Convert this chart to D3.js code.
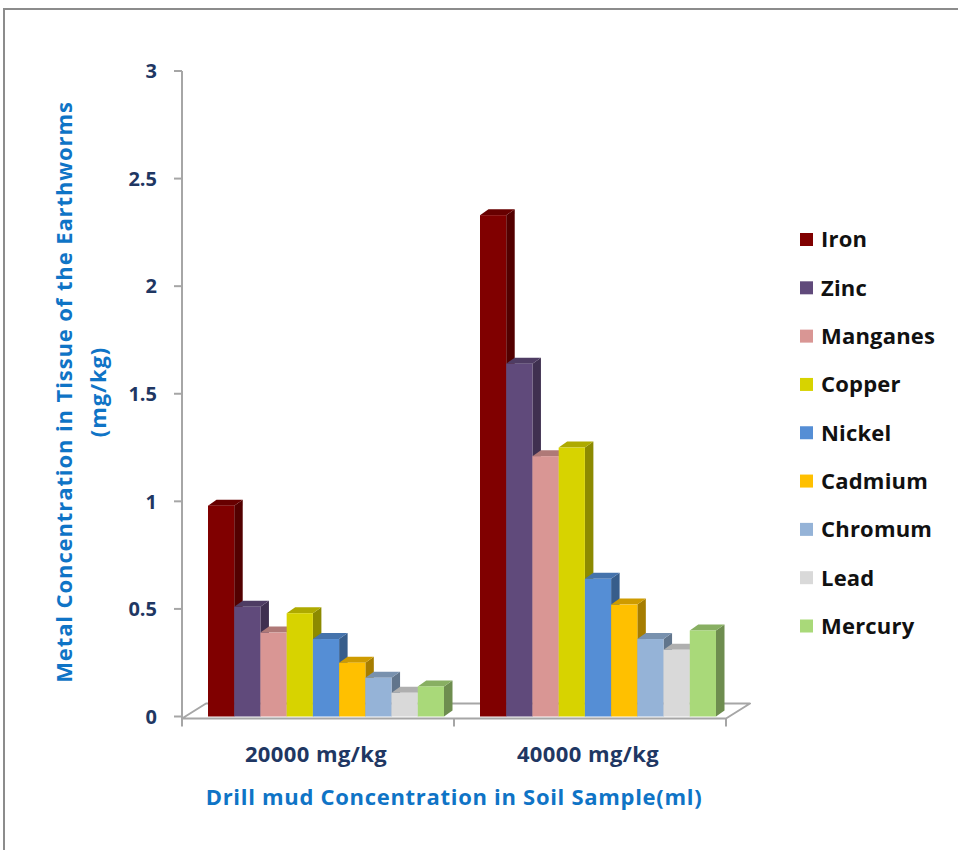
<!DOCTYPE html>
<html>
<head>
<meta charset="utf-8">
<script src="https://cdn.jsdelivr.net/npm/d3@7"></script>
<style>
  body{margin:0;background:#fff;}
  text{font-family:"Open Sans","DejaVu Sans",sans-serif;font-weight:bold;}
</style>
</head>
<body>
<svg id="chart" width="958" height="850"></svg>
<script>
// data
var categories=['20000 mg/kg','40000 mg/kg']
var metals=['Iron','Zinc','Manganes','Copper','Nickel','Cadmium','Chromum','Lead','Mercury']
var colors=['#800000','#604a7b','#d99694','#d7d300','#558ed5','#ffc000','#95b3d7','#d9d9d9','#a9d979']
var values20000=[0.98,0.51,0.39,0.48,0.36,0.25,0.18,0.11,0.14]
var values40000=[2.33,1.64,1.21,1.25,0.64,0.52,0.36,0.31,0.40]
var yTicks=[0,0.5,1,1.5,2,2.5,3]

var svg=d3.select('#chart')
var depth={dx:8.5,dy:-6},floorDepth={dx:24,dy:-15}

// outer chart border
svg.append('rect')
    .attr('x',4).attr('y',9)
    .attr('width',1000).attr('height',900)
    .attr('fill','#fff')
    .attr('stroke','#8c8c8c')
    .attr('stroke-width',2)

var x0=d3.scaleBand().domain(categories).range([182,726]),
    x1=d3.scaleBand().domain(metals).range([26,262]),
    y=d3.scaleLinear().domain([0,3]).range([716.5,71])

var y0=y(0)
// floor
var floor=[[182,y0+2],[726,y0+2],[726+floorDepth.dx,y0+2+floorDepth.dy],[182+floorDepth.dx,y0+2+floorDepth.dy]]
svg.append('polygon')
    .attr('points',floor.map(p=>p.join(',')).join(' '))
    .attr('fill','#fff')
    .attr('stroke','#a6a6a6')
    .attr('stroke-width',2)
    .attr('stroke-linejoin','round')

// y axis
var yAxis=svg.append('g').attr('id','y-axis')
yAxis.append('line')
    .attr('x1',182).attr('x2',182)
    .attr('y1',y(3)).attr('y2',y0+6)
    .attr('stroke','#a6a6a6').attr('stroke-width',2)
yAxis.selectAll('line.tick')
    .data(yTicks)
    .join('line')
    .attr('class','tick')
    .attr('x1',174).attr('x2',182)
    .attr('y1',d=>y(d)).attr('y2',d=>y(d))
    .attr('stroke','#a6a6a6').attr('stroke-width',2)
yAxis.selectAll('text')
    .data(yTicks)
    .join('text')
    .attr('x',157)
    .attr('y',d=>y(d))
    .attr('dy','0.36em')
    .attr('text-anchor','end')
    .attr('font-size',20)
    .attr('fill','#1f3763')
    .text(d=>d)

// x axis ticks + labels
var bounds=[182,x0(categories[1]),726]
svg.append('g').selectAll('line')
    .data(bounds)
    .join('line')
    .attr('x1',d=>d).attr('x2',d=>d)
    .attr('y1',y0+2).attr('y2',y0+10)
    .attr('stroke','#a6a6a6').attr('stroke-width',2)
svg.append('g').selectAll('text')
    .data(categories)
    .join('text')
    .attr('x',d=>x0(d)+x0.bandwidth()/2-2)
    .attr('y',762)
    .attr('text-anchor','middle')
    .attr('font-size',22)
    .attr('letter-spacing',0.4)
    .attr('fill','#1f3763')
    .text(d=>d)

// 3d bars
var series=[values20000,values40000]
var bars=[]
categories.forEach((c,ci)=>{
    metals.forEach((m,mi)=>{
        bars.push({cat:c,metal:m,value:series[ci][mi],color:colors[mi]})
    })
})
function pts(a){return a.map(p=>p.join(',')).join(' ')}
var g=svg.append('g').attr('id','bars')
    .selectAll('g')
    .data(bars)
    .join('g')
g.each(function(d){
    var sel=d3.select(this)
    var xl=x0(d.cat)+x1(d.metal), xr=xl+x1.bandwidth(), yt=y(d.value)
    var c=d3.color(d.color)
    sel.append('polygon')   // side
        .attr('points',pts([[xr,y0],[xr,yt],[xr+depth.dx,yt+depth.dy],[xr+depth.dx,y0+depth.dy]]))
        .attr('fill',c.darker(1.2))
    sel.append('polygon')   // top
        .attr('points',pts([[xl,yt],[xr,yt],[xr+depth.dx,yt+depth.dy],[xl+depth.dx,yt+depth.dy]]))
        .attr('fill',c.darker(0.6))
    sel.append('rect')      // front
        .attr('x',xl).attr('y',yt)
        .attr('width',x1.bandwidth()).attr('height',y0-yt)
        .attr('fill',d.color)
})

// legend
var legend=svg.append('g').attr('id','legend')
var ly=d3.scalePoint().domain(metals).range([239.5,626])
legend.selectAll('rect')
    .data(metals)
    .join('rect')
    .attr('x',800).attr('y',d=>ly(d)-6.5)
    .attr('width',13).attr('height',13)
    .attr('fill',(d,i)=>colors[i])
legend.selectAll('text')
    .data(metals)
    .join('text')
    .attr('x',821).attr('y',d=>ly(d))
    .attr('dy','0.36em')
    .attr('font-size',22)
    .attr('letter-spacing',0.2)
    .attr('fill','#111')
    .text(d=>d)

// axis titles
svg.append('text')
    .attr('x',454).attr('y',805)
    .attr('text-anchor','middle')
    .attr('font-size',22)
    .attr('letter-spacing',0.7)
    .attr('fill','#0f74c6')
    .text('Drill mud Concentration in Soil Sample(ml)')
var yt=svg.append('text')
    .attr('transform','translate(72,392) rotate(-90)')
    .attr('text-anchor','middle')
    .attr('font-size',22)
    .attr('letter-spacing',0.9)
    .attr('fill','#0f74c6')
yt.append('tspan').attr('x',0).attr('y',0).text('Metal Concentration in Tissue of the Earthworms')
yt.append('tspan').attr('x',0).attr('y',34).text('(mg/kg)')
</script>
</body>
</html>
